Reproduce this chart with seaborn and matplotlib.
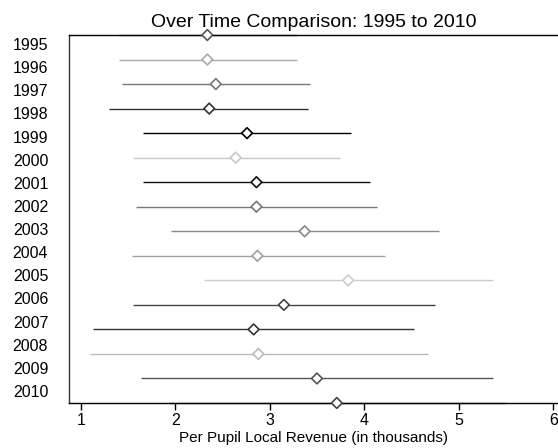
import numpy as np
import pandas as pd
import matplotlib
matplotlib.use("Agg")
import matplotlib.pyplot as plt
import seaborn as sns

years = [1995, 1996, 1997, 1998, 1999, 2000, 2001, 2002,
         2003, 2004, 2005, 2006, 2007, 2008, 2009, 2010]
means = [2.34, 2.34, 2.43, 2.36, 2.76, 2.64, 2.86, 2.86,
         3.37, 2.87, 3.83, 3.15, 2.83, 2.88, 3.50, 3.71]
lows = [1.40, 1.41, 1.44, 1.30, 1.66, 1.55, 1.66, 1.59,
        1.96, 1.54, 2.30, 1.55, 1.13, 1.10, 1.64, 1.93]
highs = [3.29, 3.29, 3.43, 3.41, 3.86, 3.74, 4.06, 4.14,
         4.79, 4.22, 5.36, 4.75, 4.53, 4.67, 5.36, 5.50]
colors = ["#555555", "#aaaaaa", "#777777", "#333333", "#000000", "#c8c8c8",
          "#111111", "#777777", "#888888", "#a0a0a0", "#cccccc", "#444444",
          "#333333", "#bbbbbb", "#555555", "#444444"]
x_ticks = [1, 2, 3, 4, 5, 6]
title = "Over Time Comparison: 1995 to 2010"
xlabel = "Per Pupil Local Revenue (in thousands)"

df = pd.DataFrame({"year": [str(y) for y in years], "mean": means,
                   "low": lows, "high": highs, "pos": np.arange(len(years))})

sns.set_theme(style="white")
plt.rcParams["font.family"] = ["Liberation Sans", "DejaVu Sans"]
plt.rcParams["text.color"] = "black"
plt.rcParams["axes.labelcolor"] = "black"
plt.rcParams["xtick.color"] = "black"
plt.rcParams["ytick.color"] = "black"

W, H = 558, 448
fig = plt.figure(figsize=(W / 100, H / 100), dpi=100)
ax = fig.add_axes([69 / W, 1 - 403 / H, (558 - 69) / W, (403 - 35) / H])

ax.hlines(df["pos"], df["low"], df["high"], colors=colors, lw=1.0,
          clip_on=False, zorder=2)
sns.scatterplot(data=df, x="mean", y="pos", hue="year", palette=colors,
                marker="D", s=30, linewidth=1.2, legend=False, ax=ax,
                zorder=3, clip_on=False)
coll = ax.collections[-1]
coll.set_edgecolors(colors)
coll.set_facecolors("white")

ax.set_xlim(1 + (69 - 80.7) / 94.5, 1 + (558 - 80.7) / 94.5)
ax.set_ylim(len(years) - 1, 0)
ax.set_xticks(x_ticks)
ax.set_xticklabels([str(t) for t in x_ticks], fontsize=11.5, color="black")
ax.set_yticks(df["pos"])
ax.set_yticklabels([])
ax.tick_params(axis="y", direction="in", length=2.5, width=0.8, color="#555555")
ax.tick_params(axis="x", direction="out", length=5, width=1, color="black",
               bottom=True, pad=2)
ax.set_xlabel(xlabel, fontsize=11, labelpad=2, color="black")
ax.set_ylabel("")

for side in ["left", "top", "bottom"]:
    ax.spines[side].set_visible(True)
    ax.spines[side].set_color("black")
    ax.spines[side].set_linewidth(1.0)
ax.spines["left"].set_color("#333333")
ax.spines["right"].set_visible(False)

# year labels are spaced slightly differently than the rows
step_pt = (403 - 35) / (len(years) - 1)
lab0 = 44
lab_step = (391 - 44) / (len(years) - 1)
fwd = lambda i: (35 + np.asarray(i) * step_pt - lab0) / lab_step
inv = lambda j: (lab0 + np.asarray(j) * lab_step - 35) / step_pt
sec = ax.secondary_yaxis("left", functions=(fwd, inv))
sec.set_yticks(np.arange(len(years)))
sec.set_yticklabels([str(y) for y in years], fontsize=11.5, color="black")
sec.tick_params(length=0, pad=15)
sec.spines["left"].set_visible(False)

ax.set_title(title, fontsize=14, pad=6, color="black")

fig.savefig("out.png", dpi=100)
